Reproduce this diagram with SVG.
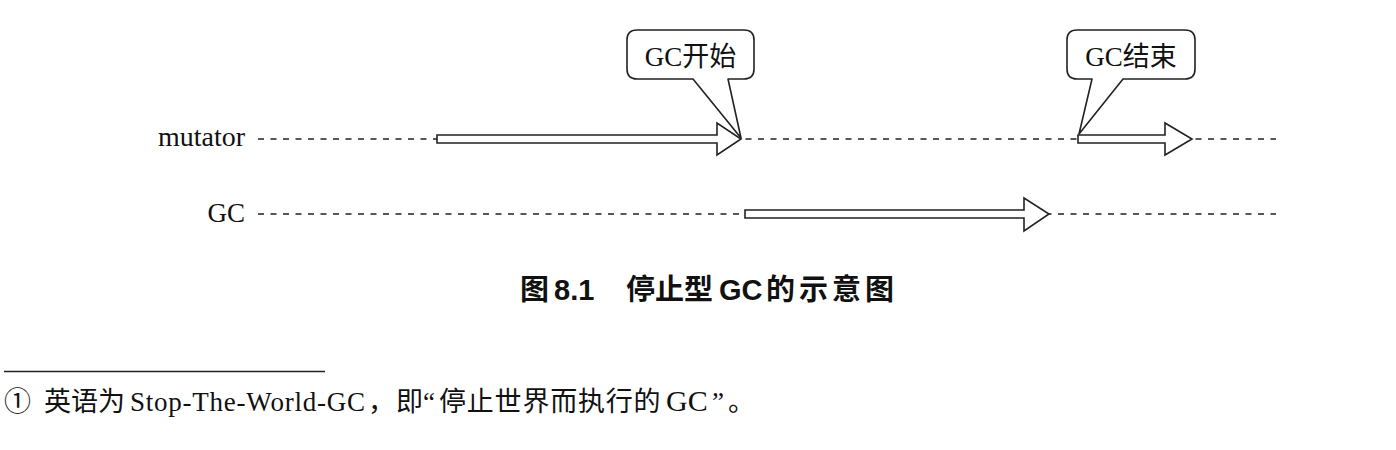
<svg xmlns="http://www.w3.org/2000/svg" width="1396" height="450" viewBox="0 0 1396 450">
<style>
.bg{fill:#ffffff}
.dash{stroke:#222;stroke-width:1.4;stroke-dasharray:6 6.5;fill:none}
.arrow{fill:#ffffff;stroke:#222;stroke-width:1.6;stroke-linejoin:miter}
.callout{fill:#ffffff;stroke:#222;stroke-width:1.6;stroke-linejoin:round}
.lbl{font-family:"Liberation Serif","Noto Sans CJK SC",serif;font-size:27px;fill:#111}
.cap{font-family:"Liberation Sans","Noto Sans CJK SC",sans-serif;font-size:29px;font-weight:bold;fill:#111}
.foot{font-family:"Liberation Serif","Noto Sans CJK SC",serif;font-size:27px;fill:#111}
.rule{stroke:#222;stroke-width:1.5}
</style>
<rect class="bg" x="0" y="0" width="1396" height="450"/>
<g id="connectors">
<line class="dash" x1="258" y1="139" x2="1276" y2="139"/>
<line class="dash" x1="258" y1="214" x2="1276" y2="214"/>
<path class="arrow" d="M437,135 H717 V123 L741,139 L717,155 V143 H437 Z"/>
<path class="arrow" d="M1078,135 H1165 V123 L1192,139 L1165,155 V143 H1078 Z"/>
<path class="arrow" d="M745,210 H1024 V198 L1049,214 L1024,231 V218 H745 Z"/>
</g>
<g id="lane-mutator">
<text class="lbl" x="245" y="146" text-anchor="end" style="font-size:28px">mutator</text>
</g>
<g id="lane-gc">
<text class="lbl" x="245" y="222" text-anchor="end">GC</text>
</g>
<g id="callout-start">
<path class="callout" d="M637,30 H744 Q754,30 754,40 V69 Q754,79 744,79 H728 L741,138 L693,79 H637 Q627,79 627,69 V40 Q627,30 637,30 Z"/>
<text class="lbl" x="690.5" y="66" text-anchor="middle">GC开始</text>
</g>
<g id="callout-end">
<path class="callout" d="M1077,30 H1185 Q1195,30 1195,40 V69 Q1195,79 1185,79 H1123 L1079,134 L1092,79 H1077 Q1067,79 1067,69 V40 Q1067,30 1077,30 Z"/>
<text class="lbl" x="1131" y="66" text-anchor="middle">GC结束</text>
</g>
<g id="caption">
<text class="cap" y="300"><tspan x="520">图</tspan><tspan x="554">8.1</tspan><tspan x="626">停止型</tspan><tspan x="719">GC</tspan><tspan x="766" letter-spacing="4">的示意图</tspan></text>
</g>
<g id="footnote">
<line class="rule" x1="4" y1="371.5" x2="325" y2="371.5"/>
<text class="foot" y="411"><tspan x="4">①</tspan><tspan x="44">英语为</tspan><tspan x="130" textLength="235">Stop-The-World-GC</tspan><tspan x="368">，</tspan><tspan x="396">即</tspan><tspan x="423">“</tspan><tspan x="439" letter-spacing="0.8">停止世界而执行的</tspan><tspan x="666" style="font-size:30px">GC</tspan><tspan x="712">”</tspan><tspan x="728">。</tspan></text>
</g>
</svg>
